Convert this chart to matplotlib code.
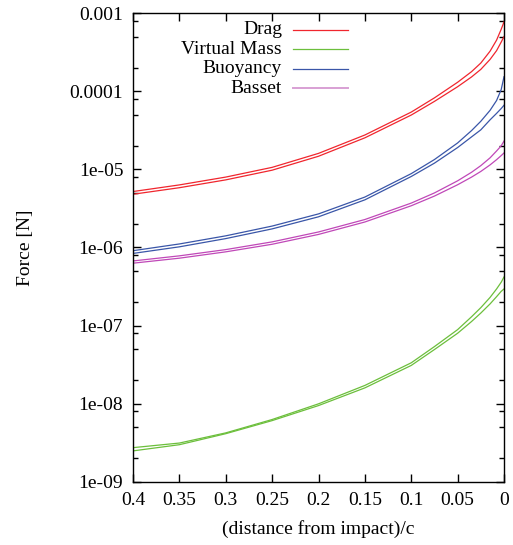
import matplotlib
matplotlib.use('Agg')
import matplotlib.pyplot as plt
import numpy as np
from matplotlib.ticker import FixedLocator, NullFormatter

plt.rcParams['font.family'] = ['Liberation Serif', 'DejaVu Serif']
plt.rcParams['font.size'] = 14

# distance from impact / c
dist = [0.4, 0.35, 0.3, 0.25, 0.2, 0.15, 0.1, 0.075, 0.05, 0.035, 0.025, 0.015, 0.008, 0.003, 0.0]

drag_a = [5.2e-6, 6.32e-6, 7.96e-6, 1.06e-5, 1.6e-5, 2.75e-5, 5.4e-5, 8.21e-5, 1.3e-4, 1.776e-4, 2.29e-4, 3.25e-4, 4.5e-4, 6.2e-4, 7.7e-4]
drag_b = [4.8e-6, 5.82e-6, 7.33e-6, 9.75e-6, 1.47e-5, 2.53e-5, 4.95e-5, 7.4e-5, 1.14e-4, 1.52e-4, 1.9e-4, 2.55e-4, 3.3e-4, 4.25e-4, 5.0e-4]

vmass_a = [2.75e-9, 3.15e-9, 4.25e-9, 6.3e-9, 1.0e-8, 1.72e-8, 3.35e-8, 5.4e-8, 8.9e-8, 1.3e-7, 1.7e-7, 2.3e-7, 2.95e-7, 3.6e-7, 4.2e-7]
vmass_b = [2.5e-9, 3.0e-9, 4.15e-9, 6.1e-9, 9.5e-9, 1.6e-8, 3.1e-8, 4.95e-8, 8.0e-8, 1.13e-7, 1.45e-7, 1.9e-7, 2.35e-7, 2.75e-7, 2.95e-7]

buoy_a = [9.1e-7, 1.11e-6, 1.41e-6, 1.88e-6, 2.69e-6, 4.42e-6, 8.81e-6, 1.334e-5, 2.176e-5, 3.13e-5, 4.12e-5, 5.69e-5, 7.6e-5, 1.05e-4, 1.53e-4]
buoy_b = [8.4e-7, 1.02e-6, 1.3e-6, 1.73e-6, 2.47e-6, 4.07e-6, 8.1e-6, 1.2e-5, 1.9e-5, 2.6e-5, 3.2e-5, 4.3e-5, 5.2e-5, 6.0e-5, 6.6e-5]

basset_a = [6.73e-7, 7.82e-7, 9.4e-7, 1.18e-6, 1.58e-6, 2.28e-6, 3.7e-6, 4.99e-6, 7.13e-6, 9.17e-6, 1.115e-5, 1.404e-5, 1.718e-5, 2.0e-5, 2.3e-5]
basset_b = [6.3e-7, 7.3e-7, 8.8e-7, 1.1e-6, 1.47e-6, 2.12e-6, 3.42e-6, 4.55e-6, 6.35e-6, 7.95e-6, 9.4e-6, 1.14e-5, 1.33e-5, 1.5e-5, 1.62e-5]

labels = ['Drag', 'Virtual Mass', 'Buoyancy', 'Basset']
colors = ['#f0262e', '#6cbf3c', '#3a56a8', '#c048b8']
key_colors = ['#f0262e', '#6cbf3c', '#3a56a8', '#d8a0d4']
series = [(drag_a, drag_b), (vmass_a, vmass_b), (buoy_a, buoy_b), (basset_a, basset_b)]

fig = plt.figure(figsize=(5.13, 5.45), dpi=100)
ax = fig.add_axes([133 / 513, 63 / 545, 371 / 513, 469 / 545])

for (a, b), c in zip(series, colors):
    ax.plot(dist, a, color=c, lw=0.9)
    ax.plot(dist, b, color=c, lw=0.9)

ax.set_yscale('log')
ax.set_xlim(0.4, 0.0)
ax.set_ylim(1e-9, 1e-3)

ax.set_xticks(np.arange(0, 0.41, 0.05))
ax.set_xticklabels(['0', '0.05', '0.1', '0.15', '0.2', '0.25', '0.3', '0.35', '0.4'])
ax.set_yticks([1e-9, 1e-8, 1e-7, 1e-6, 1e-5, 1e-4, 1e-3])
ax.set_yticklabels(['1e-09', '1e-08', '1e-07', '1e-06', '1e-05', '0.0001', '0.001'])
minor = [m * 10.0 ** e for e in range(-9, -3) for m in (2, 5, 8)]
ax.yaxis.set_minor_locator(FixedLocator(minor))
ax.yaxis.set_minor_formatter(NullFormatter())
ax.tick_params(which='both', direction='in', top=True, right=True, width=1.0)
ax.tick_params(which='major', length=6, pad=7)
ax.tick_params(which='minor', length=3.5)
for sp in ax.spines.values():
    sp.set_linewidth(1.0)

ax.set_xlabel('(distance from impact)/c', labelpad=8)
ax.set_ylabel('Force [N]', labelpad=26)

# key: right-aligned titles with line samples to their right
for i, (lab, c) in enumerate(zip(labels, key_colors)):
    y = 1 - (17 + 19.4 * i) / 469
    ax.text(149 / 371, y, lab, transform=ax.transAxes, ha='right', va='center')
    ax.plot([160 / 371, 215 / 371], [y, y], transform=ax.transAxes, color=c,
            lw=1.4 if i == 3 else 0.9, clip_on=False)

fig.savefig('out.png', dpi=100)
